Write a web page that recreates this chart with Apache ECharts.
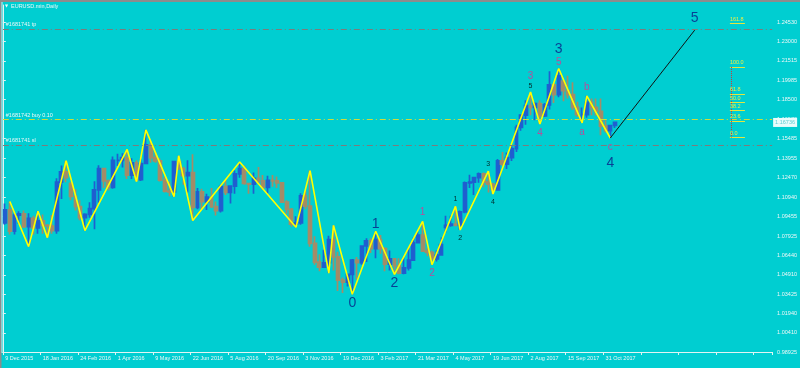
<!DOCTYPE html>
<html><head><meta charset="utf-8">
<script src="https://cdn.jsdelivr.net/npm/echarts@6/dist/echarts.min.js"></script>
<style>html,body{margin:0;padding:0;background:#00CED1;}#c{width:800px;height:368px;}</style>
</head><body><div id="c"></div>
<script>
// ---- data ----
const dateLabels = ['9 Dec 2015','18 Jan 2016','24 Feb 2016','1 Apr 2016','9 May 2016','22 Jun 2016','5 Aug 2016','20 Sep 2016','3 Nov 2016','19 Dec 2016','3 Feb 2017','21 Mar 2017','4 May 2017','19 Jun 2017','2 Aug 2017','15 Sep 2017','31 Oct 2017'];
// each candle = 4 daily bars
const opens  = [1.0895,1.0995,1.0830,1.0955,1.0965,1.0865,1.0930,1.0855,1.0910,1.0875,1.0870,1.0835,1.1210,1.1290,1.1200,1.1100,1.1020,1.0935,1.0960,1.1005,1.1150,1.1315,1.1220,1.1170,1.1380,1.1380,1.1400,1.1265,1.1360,1.1230,1.1355,1.1500,1.1400,1.1375,1.1225,1.1140,1.1135,1.1370,1.1315,1.1260,1.1285,1.1015,1.1135,1.1060,1.1095,1.1020,1.0990,1.1175,1.1130,1.1180,1.1275,1.1315,1.1200,1.1195,1.1240,1.1220,1.1170,1.1225,1.1220,1.1205,1.1055,1.1000,1.0885,1.0895,1.1105,1.1025,1.0735,1.0590,1.0550,1.0585,1.0765,1.0630,1.0450,1.0435,1.0495,1.0605,1.0585,1.0715,1.0755,1.0695,1.0765,1.0695,1.0575,1.0615,1.0560,1.0505,1.0545,1.0605,1.0740,1.0800,1.0675,1.0665,1.0615,1.0645,1.0860,1.0875,1.0885,1.0875,1.0980,1.1205,1.1210,1.1245,1.1275,1.1210,1.1195,1.1150,1.1375,1.1350,1.1400,1.1470,1.1635,1.1730,1.1805,1.1790,1.1820,1.1725,1.1810,1.1965,1.1890,1.1995,1.1920,1.1890,1.1790,1.1735,1.1735,1.1830,1.1790,1.1760,1.1645,1.1610,1.1650];
const highs  = [1.1045,1.1060,1.0970,1.0985,1.0990,1.0970,1.0950,1.0985,1.0960,1.0885,1.0955,1.1240,1.1340,1.1376,1.1210,1.1155,1.1070,1.0970,1.1055,1.1218,1.1342,1.1320,1.1230,1.1410,1.1430,1.1435,1.1464,1.1395,1.1380,1.1390,1.1616,1.1530,1.1445,1.1395,1.1250,1.1215,1.1375,1.1415,1.1330,1.1380,1.1427,1.1165,1.1160,1.1120,1.1165,1.1060,1.1190,1.1235,1.1185,1.1300,1.1366,1.1340,1.1205,1.1285,1.1327,1.1265,1.1260,1.1265,1.1255,1.1210,1.1070,1.1010,1.0945,1.1125,1.1145,1.1300,1.0790,1.0650,1.0685,1.0795,1.0875,1.0670,1.0470,1.0500,1.0615,1.0630,1.0720,1.0775,1.0775,1.0829,1.0800,1.0705,1.0680,1.0620,1.0620,1.0625,1.0700,1.0780,1.0825,1.0906,1.0700,1.0680,1.0680,1.0780,1.0950,1.0950,1.1023,1.0990,1.1215,1.1268,1.1250,1.1285,1.1285,1.1296,1.1205,1.1390,1.1445,1.1440,1.1490,1.1655,1.1735,1.1845,1.1910,1.1830,1.1845,1.1825,1.2070,1.1980,1.2092,1.2000,1.2035,1.1985,1.1835,1.1790,1.1880,1.1860,1.1860,1.1860,1.1690,1.1655,1.1680];
const lows   = [1.0880,1.0805,1.0805,1.0885,1.0855,1.0710,1.0805,1.0810,1.0810,1.0780,1.0810,1.0810,1.1080,1.1210,1.1070,1.0990,1.0915,1.0835,1.0935,1.0845,1.1050,1.1165,1.1145,1.1160,1.1335,1.1325,1.1235,1.1235,1.1215,1.1220,1.1350,1.1360,1.1360,1.1215,1.1130,1.1100,1.1098,1.1305,1.1190,1.1130,1.0912,1.1000,1.1000,1.0995,1.1010,1.0952,1.0975,1.1110,1.1045,1.1120,1.1245,1.1190,1.1120,1.1120,1.1200,1.1150,1.1125,1.1175,1.1165,1.1050,1.0965,1.0865,1.0860,1.0880,1.1000,1.0710,1.0570,1.0520,1.0545,1.0505,1.0525,1.0365,1.0350,1.0400,1.0340,1.0455,1.0570,1.0590,1.0660,1.0620,1.0655,1.0520,1.0525,1.0494,1.0495,1.0495,1.0525,1.0605,1.0735,1.0670,1.0635,1.0570,1.0595,1.0640,1.0820,1.0865,1.0875,1.0839,1.0970,1.1165,1.1110,1.1205,1.1170,1.1130,1.1118,1.1150,1.1335,1.1312,1.1375,1.1445,1.1610,1.1655,1.1730,1.1690,1.1662,1.1715,1.1775,1.1825,1.1870,1.1838,1.1860,1.1770,1.1715,1.1670,1.1710,1.1730,1.1725,1.1575,1.1595,1.1553,1.1630];
const closes = [1.0995,1.0830,1.0955,1.0965,1.0865,1.0930,1.0855,1.0910,1.0875,1.0870,1.0835,1.1210,1.1290,1.1245,1.1100,1.1020,1.0935,1.0960,1.1005,1.1150,1.1315,1.1220,1.1170,1.1380,1.1380,1.1400,1.1265,1.1360,1.1230,1.1355,1.1500,1.1400,1.1375,1.1225,1.1140,1.1135,1.1370,1.1315,1.1260,1.1285,1.1015,1.1135,1.1060,1.1095,1.1020,1.0990,1.1175,1.1130,1.1180,1.1275,1.1315,1.1200,1.1195,1.1240,1.1220,1.1170,1.1225,1.1220,1.1205,1.1055,1.1000,1.0885,1.0895,1.1105,1.1025,1.0735,1.0590,1.0550,1.0585,1.0765,1.0630,1.0450,1.0435,1.0495,1.0605,1.0585,1.0715,1.0755,1.0695,1.0765,1.0695,1.0575,1.0615,1.0560,1.0505,1.0545,1.0605,1.0740,1.0800,1.0675,1.0665,1.0615,1.0645,1.0725,1.0875,1.0885,1.0875,1.0980,1.1205,1.1210,1.1245,1.1275,1.1210,1.1195,1.1150,1.1375,1.1350,1.1400,1.1470,1.1635,1.1730,1.1805,1.1790,1.1820,1.1725,1.1810,1.1965,1.1890,1.2035,1.1920,1.1890,1.1790,1.1735,1.1735,1.1830,1.1790,1.1760,1.1645,1.1610,1.1650,1.1674];
const priceTicks = [1.24530,1.23000,1.21515,1.19985,1.18500,1.16970,1.15485,1.13955,1.12470,1.10940,1.09455,1.07925,1.06440,1.04910,1.03425,1.01940,1.00410,0.98925];
// zigzag pivots (candle index, price)
const zzIdx   = [1,5,7,9,13,17,26,28,30,36,37,40,50,62,65,69,70,74,79,83,89,91,96,97,103,104,112,114,118,123,124,129];
const zzPrice = [1.1060,1.0710,1.0985,1.0780,1.1376,1.0835,1.1464,1.1215,1.1616,1.1098,1.1415,1.0912,1.1366,1.0860,1.1300,1.0505,1.0875,1.0340,1.0829,1.0494,1.0906,1.0570,1.1023,1.0839,1.1296,1.1118,1.1910,1.1662,1.2092,1.1670,1.1880,1.1553];
// projection to wave 5
const projIdx   = [129,147];
const projPrice = [1.1553,1.2390];
// wave labels
const waveText  = ['0','1','2','1','2','1','2','3','4','3','5','4','3','5','b','a','c','4','5'];
const waveIdx   = [74,79,83,89,91,96,97,103,104,112,112,114,118,118,124,123,129,129,147];
const wavePrice = [1.0340,1.0829,1.0494,1.0906,1.0570,1.1023,1.0839,1.1296,1.1118,1.1910,1.1910,1.1662,1.2092,1.2092,1.1880,1.1670,1.1553,1.1553,1.2390];
const waveDegree= ['P','P','P','M','M','S','S','S','S','M','S','M','P','M','M','M','M','P','P'];
const waveSide  = [1,-1,1,-1,1,-1,1,-1,1,-1,-1,1,-1,-1,-1,1,1,1,-1];
// order lines
const orderNames  = ['#1681741 tp','#1681742 buy 0.10','#1681741 sl'];
const orderPrices = [1.2395,1.1680,1.1526];
// fibonacci expansion
const fibLevels = [0,23.6,38.2,50,61.8,100,161.8];
const fibLow = 1.1556, fibHigh = 1.2104;
const bidPrice = 1.16736;

// ---- chart ----
const N = 164;
const cats = Array.from({length:N},(_,i)=>String(i));
const FONT = 'Liberation Sans, Arial, sans-serif';
const TXT = '#eef8f8';
const candles = opens.map((o,i)=>[o,closes[i],lows[i],highs[i]]);
const degStyle = {
  P:{color:'#0a1c86',size:14,off:[9,7]},
  M:{color:'#e2308f',size:10,off:[9,9]},
  S:{color:'#000000',size:7,off:[8,7]}
};
const extra = {9:[-16],10:[-6],12:[-19],13:[-6],17:[25],18:[-12]};
const waveData = waveText.map((t,k)=>{
  const st = degStyle[waveDegree[k]];
  let dy = waveSide[k]>0 ? st.off[0] : -st.off[1];
  if (extra[k]) dy = extra[k][0];
  return {value:[waveIdx[k],wavePrice[k]],
    label:{show:true,formatter:t,position:'inside',offset:[0,dy],color:st.color,fontSize:st.size,fontFamily:FONT}};
});
const orderColors = ['#7c7c7c','#cfdc3a','#7c7c7c'];
const orderLines = orderNames.map((n,k)=>({
  yAxis: orderPrices[k],
  lineStyle:{color:orderColors[k],type:[6,3,1,3],width:1},
  label:{show:true,formatter:n,position:'insideStartTop',distance:[3,1],color:TXT,fontSize:5.5,fontFamily:FONT}
}));
const fibLines = fibLevels.map(L=>{
  const p = fibLow + (fibHigh-fibLow)*L/100;
  return [{coord:[155.0,p],label:{show:true,formatter:L.toFixed(1),position:'insideStartTop',distance:[0,1],color:'#eeee44',fontSize:5.5,fontFamily:FONT},lineStyle:{color:'#e6e63c',width:1,type:'solid'}},{coord:[158.2,p]}];
});
fibLines.push([{coord:[155.2,fibHigh],lineStyle:{color:'#d03a3a',width:1,type:'dotted'},label:{show:false}},{coord:[155.2,fibLow]}]);

const chart = echarts.init(document.getElementById('c'),null,{renderer:'canvas'});
const baseGraphic = [
  {id:'gTop',type:'rect',shape:{x:0,y:0,width:800,height:2},style:{fill:'#8c8c8c'},z:100},
  {id:'gLeft',type:'rect',shape:{x:0,y:0,width:1.5,height:368},style:{fill:'#8c8c8c'},z:100},
  {id:'gLeft2',type:'rect',shape:{x:1.5,y:2,width:1,height:351},style:{fill:'#d6eeee'},z:100},
  {id:'gTri',type:'text',left:5,top:4,style:{text:'\u25BC',fill:'#f4fafa',fontSize:4,fontFamily:'DejaVu Sans'},z:100},
  {id:'gTitle',type:'text',left:11,top:3.5,style:{text:'EURUSD.min,Daily',fill:TXT,fontSize:5.5,fontFamily:FONT},z:100}
];
chart.setOption({
  animation:false,
  backgroundColor:'#00CED1',
  grid:{left:2.8,right:24.35,top:5,bottom:16},
  xAxis:[{
    type:'category',data:cats,boundaryGap:true,
    axisLine:{lineStyle:{color:'#e2f4f4',width:1}},
    axisTick:{show:true,interval:(i)=>i%8===0,length:3,lineStyle:{color:'#e2f4f4'}},
    axisLabel:{interval:(i)=>i%8===0,formatter:(v,i)=>dateLabels[i/8]||'',align:'left',margin:3,fontSize:5.5,color:TXT,fontFamily:FONT},
    splitLine:{show:false}
  },{
    type:'value',min:0,max:N,show:false
  }],
  yAxis:{
    type:'value',position:'right',min:0.98925,max:1.258487,scale:true,
    axisLine:{show:true,lineStyle:{color:'#e2f4f4',width:1}},
    axisTick:{show:true,customValues:priceTicks,length:3,lineStyle:{color:'#e2f4f4'}},
    axisLabel:{customValues:priceTicks,formatter:(v)=>v.toFixed(5),margin:5,fontSize:5.5,color:TXT,fontFamily:FONT},
    splitLine:{show:false}
  },
  graphic:baseGraphic,
  series:[
    {type:'candlestick',data:candles,barWidth:3.4,
     itemStyle:{color:'#1f5fd0',color0:'#a38c68',borderColor:'#1f5fd0',borderColor0:'#a38c68',borderWidth:1.7},
     markLine:{silent:true,symbol:['none','none'],animation:false,data:orderLines}},
    {type:'line',data:zzIdx.map((x,k)=>[x,zzPrice[k]]),symbol:'none',lineStyle:{color:'#ffff00',width:1.6},z:3},
    {type:'line',data:projIdx.map((x,k)=>[x,projPrice[k]]),symbol:'none',lineStyle:{color:'#111111',width:1},z:3},
    {type:'scatter',data:waveData,symbolSize:0,z:5},
    {type:'line',xAxisIndex:1,data:[],markLine:{silent:true,symbol:['none','none'],animation:false,data:fibLines},z:4}
  ]
});
// current bid price box on the price axis
const by = chart.convertToPixel({yAxisIndex:0}, bidPrice);
const bx = chart.convertToPixel({xAxisIndex:1}, N);
chart.setOption({graphic: baseGraphic.concat([
  {id:'bidBox',type:'rect',shape:{x:bx+1,y:by-4.5,width:24,height:9},style:{fill:'#eafcfc'},z:110},
  {id:'bidTxt',type:'text',x:bx+3,y:by,style:{text:bidPrice.toFixed(5),fill:'#5fcfd3',fontSize:5.5,fontFamily:FONT,verticalAlign:'middle'},z:111}
])});
</script></body></html>
